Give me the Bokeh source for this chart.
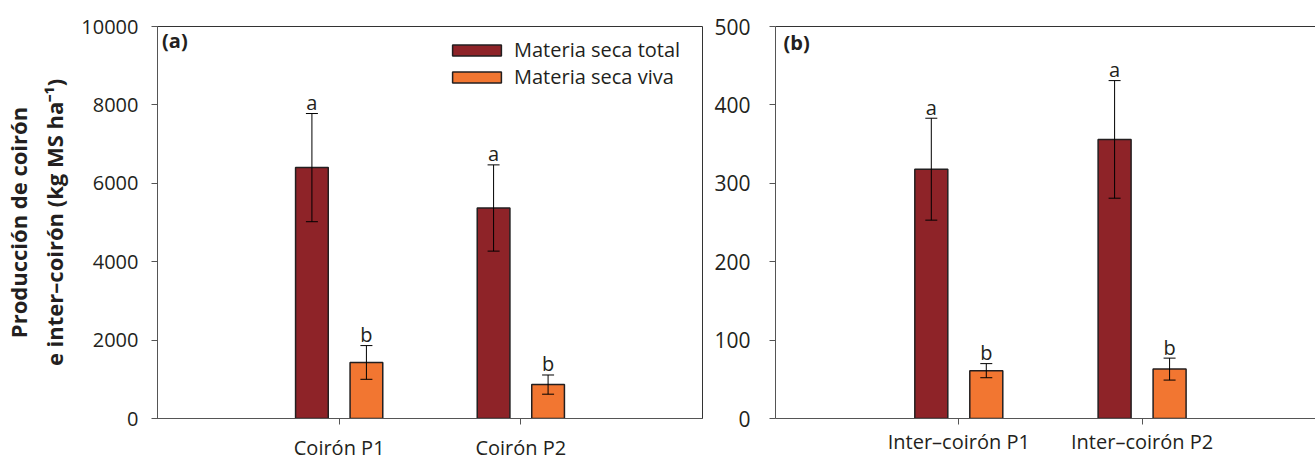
from bokeh.plotting import figure
from bokeh.layouts import row
from bokeh.models import (ColumnDataSource, Whisker, TeeHead, Legend, LegendItem,
                          FixedTicker, LinearAxis, Range1d, Label)
from bokeh.core.properties import value
from bokeh.embed import file_html
from bokeh.resources import INLINE

# ---- data -------------------------------------------------------------
categories_a = ["Coirón P1", "Coirón P2"]
categories_b = ["Inter–coirón P1", "Inter–coirón P2"]
series_names = ["Materia seca total", "Materia seca viva"]

total_a = [6400, 5370]
total_a_err = [1380, 1100]
viva_a = [1430, 865]
viva_a_err = [430, 245]

total_b = [318, 356]
total_b_err = [65, 75]
viva_b = [61, 63]
viva_b_err = [9, 14]

letters_total = ["a", "a"]
letters_viva = ["b", "b"]

ticks_a = [0, 2000, 4000, 6000, 8000, 10000]
ticks_b = [0, 100, 200, 300, 400, 500]

# ---- style ------------------------------------------------------------
DARK = "#8e2328"
ORANGE = "#f27631"
EDGE = "#231f20"
AXIS = "#555555"
TEXT = "#231f20"
FONT = "Open Sans"
OFFSET = 0.15
BAR_W = 0.18


def add_series(p, centers, vals, errs, letters, color, shift):
    xs = [c + shift for c in centers]
    src = ColumnDataSource(dict(
        x=xs, top=vals,
        upper=[v + e for v, e in zip(vals, errs)],
        lower=[v - e for v, e in zip(vals, errs)],
        letter=letters,
    ))
    r = p.vbar(x="x", top="top", width=BAR_W, bottom=0, source=src,
               fill_color=color, line_color=EDGE, line_width=1.5)
    w = Whisker(base="x", upper="upper", lower="lower", source=src,
                line_color="black", line_width=1, level="overlay",
                upper_head=TeeHead(size=12, line_color="black", line_width=1),
                lower_head=TeeHead(size=12, line_color="black", line_width=1))
    p.add_layout(w)
    # significance letter sitting just above the upper cap
    p.text(x="x", y="upper", text="letter", source=src,
           text_font=value(FONT), text_font_size="20px", text_color=TEXT,
           text_align="center", text_baseline="alphabetic", y_offset=-11)
    return r


def style_axes(p, categories, yticks, ytick_size, xtick_size):
    centers = [i + 1 for i in range(len(categories))]
    p.xaxis.ticker = FixedTicker(ticks=centers)
    p.xaxis.major_label_overrides = {c: lab for c, lab in zip(centers, categories)}
    p.yaxis.ticker = FixedTicker(ticks=yticks)
    for ax in (p.xaxis, p.yaxis):
        ax.axis_line_color = AXIS
        ax.major_tick_line_color = AXIS
        ax.major_tick_out = 6
        ax.major_tick_in = 0
        ax.minor_tick_line_color = None
        ax.major_label_text_font = FONT
        ax.major_label_text_color = TEXT
    p.yaxis.major_label_text_font_size = ytick_size
    p.xaxis.major_label_text_font_size = xtick_size
    p.grid.visible = False
    return centers


# ---- panel (a): coirón ------------------------------------------------
pa = figure(width=705, height=464, output_backend="svg", toolbar_location=None,
            x_range=Range1d(0, 3), y_range=Range1d(0, 10000),
            min_border_left=153, min_border_right=3,
            min_border_top=23, min_border_bottom=46)
pa.outline_line_color = "#333333"
pa.outline_line_width = 1
centers_a = style_axes(pa, categories_a, ticks_a, "20px", "20px")
pa.yaxis.major_label_standoff = 13
pa.xaxis.major_label_standoff = 9
ra1 = add_series(pa, centers_a, total_a, total_a_err, letters_total, DARK, -OFFSET)
ra2 = add_series(pa, centers_a, viva_a, viva_a_err, letters_viva, ORANGE, OFFSET)

pa.yaxis.axis_label = "Producción de coirón\ne inter–coirón (kg MS ha⁻¹)"
pa.yaxis.axis_label_text_font = FONT
pa.yaxis.axis_label_text_font_style = "bold"
pa.yaxis.axis_label_text_font_size = "22px"
pa.yaxis.axis_label_text_color = TEXT
pa.yaxis.axis_label_standoff = 9

legend = Legend(
    items=[LegendItem(label=series_names[0], renderers=[ra1]),
           LegendItem(label=series_names[1], renderers=[ra2])],
    location=(289, 328), orientation="vertical",
    glyph_width=61, glyph_height=14, label_height=14, spacing=0,
    padding=0, margin=0, label_standoff=7,
    border_line_color=None, background_fill_alpha=0,
    label_text_font=FONT, label_text_font_size="20px", label_text_color=TEXT,
)
pa.add_layout(legend)

pa.add_layout(Label(x=0.025, y=9990, text="(a)", text_font=FONT,
                    text_font_style="bold", text_font_size="20px",
                    text_color=TEXT, text_baseline="top"))

# ---- panel (b): inter-coirón ------------------------------------------
pb = figure(width=610, height=464, output_backend="svg", toolbar_location=None,
            x_range=Range1d(0, 2.946), y_range=Range1d(0, 500),
            min_border_left=70, min_border_right=0,
            min_border_top=26, min_border_bottom=42)
pb.outline_line_color = None
centers_b = style_axes(pb, categories_b, ticks_b, "21px", "20px")
pb.yaxis.major_label_standoff = 19
pb.xaxis.major_label_standoff = 3
add_series(pb, centers_b, total_b, total_b_err, letters_total, DARK, -OFFSET)
add_series(pb, centers_b, viva_b, viva_b_err, letters_viva, ORANGE, OFFSET)

# top frame line without ticks
top_axis = LinearAxis(ticker=FixedTicker(ticks=[]), axis_line_color="#333333",
                      major_tick_line_color=None, minor_tick_line_color=None,
                      major_label_text_font_size="0px")
pb.add_layout(top_axis, "above")

pb.add_layout(Label(x=0.044, y=497, text="(b)", text_font=FONT,
                    text_font_style="bold", text_font_size="20px",
                    text_color=TEXT, text_baseline="top"))

layout = row(pa, pb)
open("out.html", "w").write(file_html(layout, INLINE))
